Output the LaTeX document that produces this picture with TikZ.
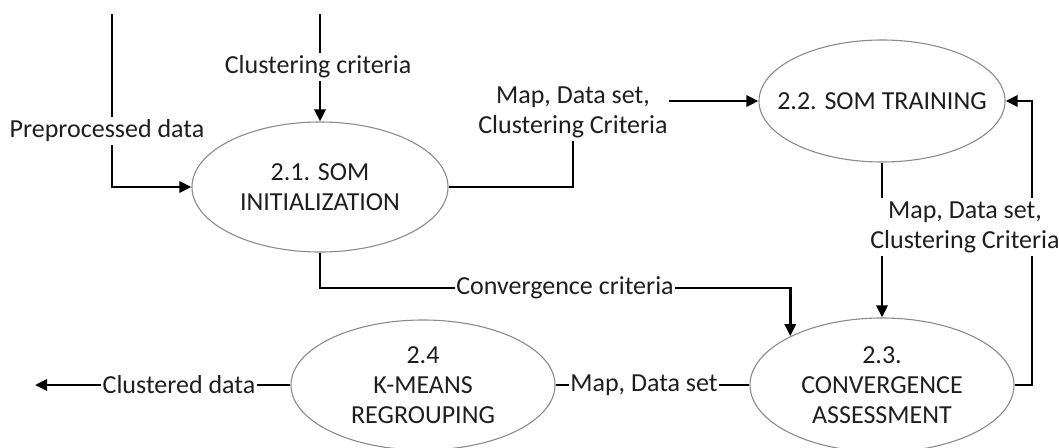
\documentclass[tikz,border=0pt]{standalone}
\usepackage{fontspec}
\setmainfont{Carlito}
\usetikzlibrary{arrows.meta,shapes.geometric}
\definecolor{edgegray}{HTML}{8A8A8A}
\definecolor{txt}{HTML}{1E1E1E}
\begin{document}
\begin{tikzpicture}[x=1pt,y=-1pt,
  proc/.style={ellipse,draw=edgegray,line width=1.1pt,inner sep=0pt,align=center,text=txt,font=\fontsize{26}{30}\selectfont},
  lbl/.style={align=center,inner xsep=1.5pt,inner ysep=3pt,text=txt,font=\fontsize{26}{30}\selectfont},
  plain/.style={line width=2.8pt},
  flow/.style={line width=2.8pt,-{Triangle[length=12pt,width=11pt]}}]
\useasboundingbox (0,0) rectangle (1059,447);
% processes
\node[proc,minimum width=256pt,minimum height=130pt] (s21) at (320,187) {2.1. SOM\\INITIALIZATION};
\node[proc,minimum width=246pt,minimum height=122pt] (s22) at (882,101) {\makebox[0pt]{2.2. SOM TRAINING}};
\node[proc,minimum width=264pt,minimum height=134pt] (s23) at (882,385) {2.3.\\CONVERGENCE\\ASSESSMENT};
\node[proc,minimum width=264pt,minimum height=130pt] (s24) at (423,385) {2.4\\K-MEANS\\REGROUPING};
% labels
\node[lbl] (pre) at (107,131) {Preprocessed data};
\node[lbl] (cc) at (318,67) {Clustering criteria};
\node[lbl] (m1) at (573,112) {Map, Data set,\\Clustering Criteria};
\node[lbl] (m2) at (965,227) {Map, Data set,\\Clustering Criteria};
\node[lbl] (conv) at (565,288) {Convergence criteria};
\node[lbl] (md) at (644,385) {Map, Data set};
\node[lbl] (cd) at (179,385) {Clustered data};
% free ends
\coordinate (p0) at (112,14);
\coordinate (c0) at (320,14);
\coordinate (r) at (1032,0);
\coordinate (out) at (35,385);
% connectors
\draw[plain] (p0) -- (p0 |- pre.north);
\draw[flow] (p0 |- pre.south) |- (s21.west);
\draw[plain] (c0) -- (c0 |- cc.north);
\draw[flow] (c0 |- cc.south) -- (s21.north);
\draw[plain] (s21.east) -| (m1.south);
\draw[flow] (m1.east |- s22.west) -- (s22.west);
\draw[plain] (s22.south) -- (s22.south |- m2.north);
\draw[flow] (s22.south |- m2.south) -- (s23.north);
\draw[plain] (s23.east) -| (r |- m2.south);
\draw[flow] (r |- m2.north) |- (s22.east);
\draw[plain] (s21.south) |- (conv.west);
\draw[flow] (conv.east) -| (s23.152);
\draw[plain] (s24.east) -- (md.west);
\draw[plain] (md.east) -- (s23.west);
\draw[plain] (s24.west) -- (cd.east);
\draw[flow] (cd.west) -- (out);
\end{tikzpicture}
\end{document}
